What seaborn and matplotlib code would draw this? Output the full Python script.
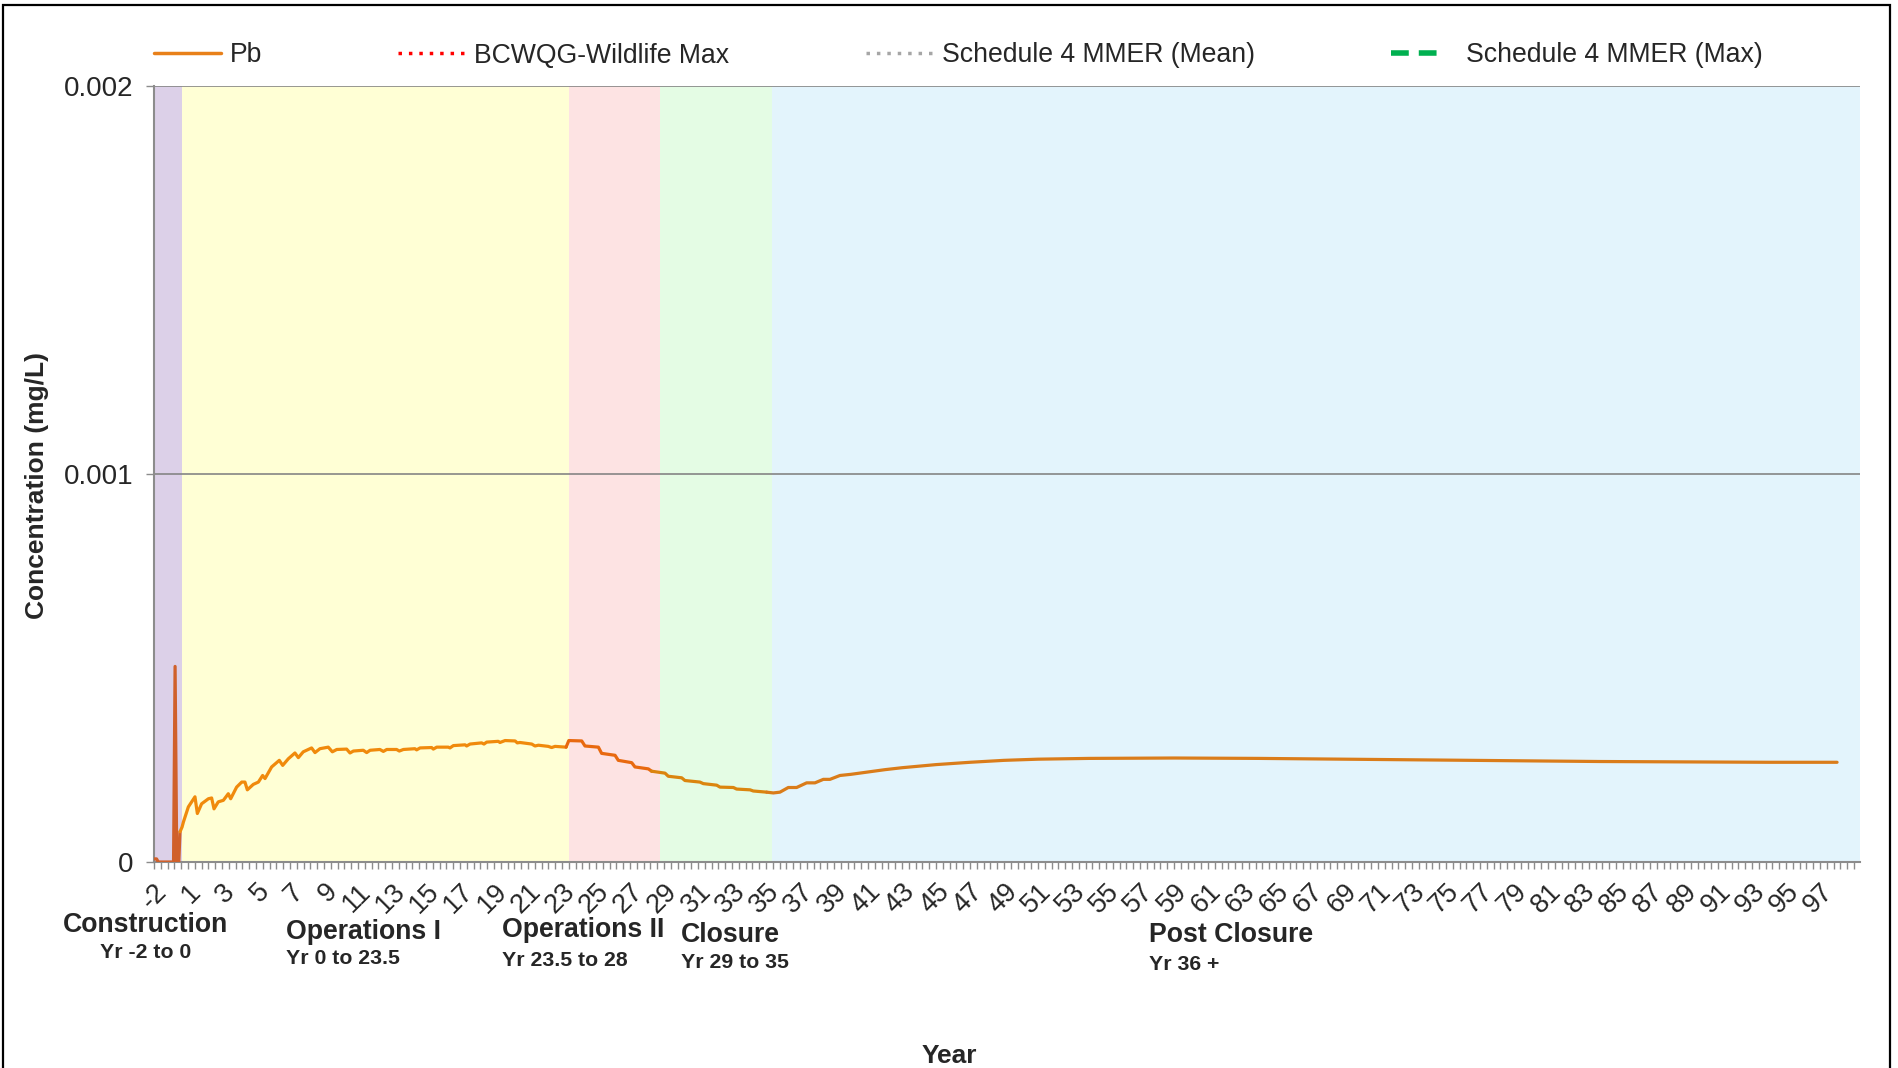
import numpy as np
import pandas as pd
import matplotlib
matplotlib.use('Agg')
import matplotlib.pyplot as plt
import seaborn as sns
from matplotlib.lines import Line2D
from matplotlib.patches import Rectangle

# ------------------------------------------------------------
# DATA  (x = category step on the Excel axis)
# ------------------------------------------------------------
step_idx = [
    0, 1.5, 2.5, 11.5, 12.4, 13.4, 14.6, 15.3, 16.5,
    17.3, 20.2, 24.1, 25.5, 28.0, 32.0, 33.9, 35.3, 37.8, 40.8, 43.7, 45.1,
    48.6, 51.6, 53.5, 54.9, 58.4, 61.4, 63.9, 65.3, 69.2, 73.7, 75.7, 79.0,
    82.9, 84.9, 87.8, 92.7, 94.7, 97.6, 102.5, 104.9, 107.5, 113.3, 115.3,
    117.3, 123.1, 125.1, 127.1, 132.9, 134.9, 136.9, 142.7, 144.3, 146.7,
    153.5, 154.5, 156.5, 163.3, 164.3, 166.3, 173.1, 174.1, 176.1, 183.0,
    183.9, 185.9, 192.7, 194.1, 195.7, 202.5, 203.5, 206.5, 212.4, 213.7,
    215.3, 222.2, 224.1, 226.1, 231.9, 233.9, 235.9, 242.4,
    244.0, 251.6, 253.5, 261.4, 263.3, 271.2, 273.1, 281.0, 282.9, 290.8, 292.7,
    300.6, 302.5, 310.4, 312.3, 321.1, 323.1, 331.0, 332.9, 340.8, 342.7,
    350.6, 352.5, 360.4,
    364.3, 368.2, 373.1, 378.0, 383.9, 388.8, 393.7, 397.6, 403.5, 410, 420,
    430, 440, 460, 480, 500, 520, 550, 600, 650, 700, 750, 800, 850, 900, 950, 990,
]
pb_conc = [
    0.000008, 0.000008, 0.0, 0.0, 0.000504, 0.0, 0.0, 0.000078, 0.000090,
    0.000103, 0.000142, 0.000168, 0.000125, 0.000150, 0.000163, 0.000165, 0.000137, 0.000155, 0.000159, 0.000176, 0.000163,
    0.000193, 0.000206, 0.000206, 0.000186, 0.000200, 0.000206, 0.000223, 0.000215, 0.000245, 0.000262, 0.000249, 0.000266,
    0.000281, 0.000269, 0.000284, 0.000294, 0.000282, 0.000292, 0.000296, 0.000284, 0.000290, 0.000291, 0.000281,
    0.000286, 0.000288, 0.000282, 0.000288, 0.000290, 0.000285, 0.000290, 0.000290, 0.000286, 0.000290,
    0.000292, 0.000289, 0.000294, 0.000295, 0.000291, 0.000296, 0.000296, 0.000294, 0.000300, 0.000302,
    0.000299, 0.000304, 0.000307, 0.000304, 0.000309, 0.000311, 0.000308, 0.000313, 0.000312, 0.000307,
    0.000308, 0.000304, 0.000299, 0.000301, 0.000298, 0.000295, 0.000298, 0.000296,
    0.000313, 0.000312, 0.000299, 0.000296, 0.000280, 0.000275, 0.000262, 0.000256, 0.000245, 0.000240, 0.000234,
    0.000229, 0.000221, 0.000217, 0.000210, 0.000206, 0.000202, 0.000198, 0.000193, 0.000192, 0.000188,
    0.000186, 0.000183, 0.000180,
    0.000178, 0.000180, 0.000192, 0.000192, 0.000204, 0.000204, 0.000213, 0.000213, 0.000223, 0.000226, 0.000232,
    0.000238, 0.000243, 0.000251, 0.000257, 0.000262, 0.000265, 0.000267, 0.000268, 0.000267, 0.000265, 0.000263,
    0.000261, 0.000259, 0.000258, 0.000257, 0.000257,
]

phase_names = ['Construction', 'Operations I', 'Operations II', 'Closure', 'Post Closure']
phase_sub   = ['Yr -2 to 0', 'Yr 0 to 23.5', 'Yr 23.5 to 28', 'Yr 29 to 35', 'Yr 36 +']
phase_start = [0, 16.5, 244, 297.6, 363.5]
phase_end   = [16.5, 244, 297.6, 363.5, 1003.5]
phase_fill  = ['#DCD0E8', '#FFFFD5', '#FDE3E3', '#E4FCE4', '#E3F4FC']
phase_line  = ['#D0602A', '#F08A0C', '#E8690F', '#DB850E', '#DA7C1A']

tick_pos    = list(range(0, 981, 20))
tick_labels = ['-2'] + [str(k) for k in range(1, 98, 2)]

df = pd.DataFrame({'step': step_idx, 'pb': pb_conc})

# ------------------------------------------------------------
# PLOT
# ------------------------------------------------------------
sns.set_theme(style='white')
plt.rcParams['font.family'] = ['Liberation Sans', 'DejaVu Sans']

W, H = 1898, 1068
fig = plt.figure(figsize=(W / 100, H / 100), dpi=100)
ax = fig.add_axes([154 / W, 1 - 862 / H, (1860 - 154) / W, (862 - 86) / H])

for s, e, c in zip(phase_start, phase_end, phase_fill):
    ax.axvspan(s, e, color=c, lw=0, zorder=0)

# Pb line, coloured per phase, each piece joined to the previous point
for i, (s, e, c) in enumerate(zip(phase_start, phase_end, phase_line)):
    seg = df[(df['step'] >= s) & (df['step'] < e)]
    if i > 0:
        prev = df[df['step'] < s].tail(1)
        seg = pd.concat([prev, seg])
    sns.lineplot(data=seg, x='step', y='pb', color=c, lw=2.3, ax=ax,
                 sort=False, estimator=None, zorder=3)

ax.set_xlim(0, 1003.5)
ax.set_ylim(0, 0.002)
ax.set_yticks([0, 0.001, 0.002], ['0', '0.001', '0.002'])
ax.yaxis.grid(True, color='#858585', lw=1.2)
ax.xaxis.grid(False)

ax.set_xticks(tick_pos, tick_labels, rotation=45, ha='right',
              rotation_mode='anchor')
ax.set_xticks(np.arange(0, 1004, 4), minor=True)
ax.tick_params(axis='x', which='both', direction='out', length=5, width=1,
               color='#8C8C8C', labelsize=19.5, pad=7, bottom=True)
ax.tick_params(axis='y', direction='out', length=6, width=1,
               color='#8C8C8C', labelsize=20, pad=9, left=True)

for side in ['top', 'right']:
    ax.spines[side].set_visible(False)
for side in ['left', 'bottom']:
    ax.spines[side].set_color('#8C8C8C')
    ax.spines[side].set_linewidth(1.5)

ax.set_xlabel('')
ax.set_ylabel('Concentration (mg/L)', fontsize=19, fontweight='bold')
ax.yaxis.set_label_coords(-0.0615, 0.485)

fig.text(949 / W, 1 - 1056 / H, 'Year', fontsize=19, fontweight='bold',
         ha='center', va='center')

# phase captions under the axis
fig.text(145 / W, 1 - 925 / H, phase_names[0], fontsize=19.2, fontweight='bold', ha='center', va='center')
fig.text(146 / W, 1 - 953 / H, phase_sub[0], fontsize=15.3, fontweight='bold', ha='center', va='center')
cap_x  = [286, 502, 681, 1149]
cap_y  = [932, 930, 935, 935]
sub_y  = [958, 960, 963, 964]
for name, sub, x, y1, y2 in zip(phase_names[1:], phase_sub[1:], cap_x, cap_y, sub_y):
    fig.text(x / W, 1 - y1 / H, name, fontsize=19.2, fontweight='bold', ha='left', va='center')
    fig.text(x / W, 1 - y2 / H, sub, fontsize=15.3, fontweight='bold', ha='left', va='center')

# legend (guideline series have no points in range)
handles = [
    Line2D([], [], color='#E8801A', lw=2.5),
    Line2D([], [], color='#FF0000', lw=2.5, dashes=(1, 2)),
    Line2D([], [], color='#A6A6A6', lw=2.5, dashes=(1, 2)),
    Line2D([], [], color='#00B050', lw=4, dashes=(3.2, 1.8, 3.2, 12)),
]
labels = ['Pb', 'BCWQG-Wildlife Max', 'Schedule 4 MMER (Mean)', 'Schedule 4 MMER (Max)']
fig.legend(handles, labels, loc='center left', bbox_to_anchor=(154 / W, 1 - 55.5 / H),
           ncol=4, frameon=False, fontsize=19.2, handlelength=2.5,
           handletextpad=0.35, columnspacing=5.1, borderpad=0, borderaxespad=0)

# outer chart border
fig.patches.append(Rectangle((3 / W, -0.02), (1890 - 3) / W, 1.02 - 5 / H,
                             transform=fig.transFigure, fill=False,
                             ec='black', lw=1.6))

plt.savefig('out.png', dpi=100)
print('saved out.png')
